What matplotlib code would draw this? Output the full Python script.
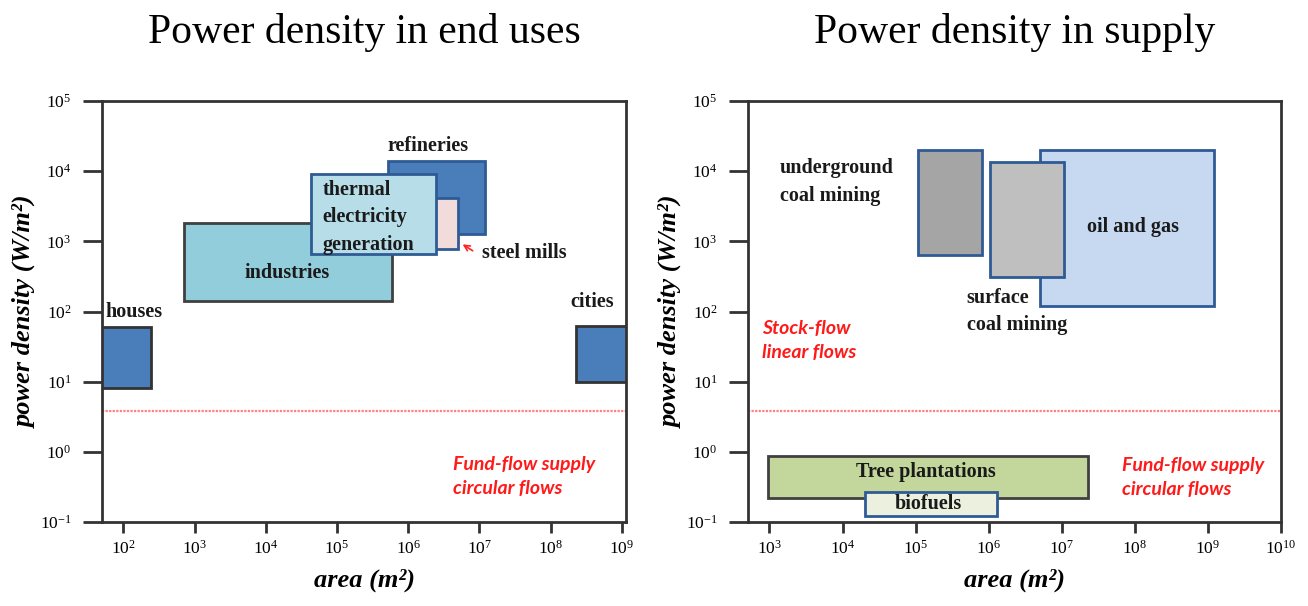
import numpy as np
import matplotlib
matplotlib.use("Agg")
import matplotlib.pyplot as plt

plt.rcParams['font.family'] = ['Liberation Serif', 'DejaVu Serif']
plt.rcParams['mathtext.fontset'] = 'custom'
plt.rcParams['mathtext.rm'] = 'Liberation Serif'
plt.rcParams['mathtext.it'] = 'Liberation Serif:italic'
plt.rcParams['mathtext.bf'] = 'Liberation Serif:bold:italic'

# ---- end uses: area range (m2) and power density range (W/m2) ----
use_names = ["industries", "refineries", "steel mills", "thermal electricity generation", "houses", "cities"]
use_area_lo = [700, 5.2e5, 1.5e6, 4.3e4, 50, 2.3e8]
use_area_hi = [6e5, 1.2e7, 5e6, 2.5e6, 240, 1.15e9]
use_pd_lo = [140, 1270, 780, 660, 8, 10]
use_pd_hi = [1800, 14000, 4200, 9000, 61, 63]
use_fill = ["#92cddc", "#4a7ebb", "#f2dcdb", "#b7dee8", "#4a7ebb", "#4a7ebb"]
use_edge = ["#404040", "#2f5b94", "#2f5b94", "#2f5b94", "#333333", "#333333"]

# ---- supply ----
sup_names = ["oil and gas", "surface coal mining", "underground coal mining", "Tree plantations", "biofuels"]
sup_area_lo = [5e6, 1.05e6, 1.07e5, 950, 2e4]
sup_area_hi = [1.2e9, 1.07e7, 8e5, 2.3e7, 1.3e6]
sup_pd_lo = [120, 310, 630, 0.22, 0.12]
sup_pd_hi = [2e4, 1.35e4, 2e4, 0.87, 0.27]
sup_fill = ["#c6d9f1", "#bfbfbf", "#a5a5a5", "#c3d69b", "#ebf1de"]
sup_edge = ["#2f5b94", "#2f5b94", "#2f5b94", "#404040", "#2f5b94"]

fund_flow_limit = 3.85  # W/m2, boundary between stock-flow and fund-flow

use_xticks = [1e2, 1e3, 1e4, 1e5, 1e6, 1e7, 1e8, 1e9]
sup_xticks = [1e3, 1e4, 1e5, 1e6, 1e7, 1e8, 1e9, 1e10]
yticks = [1e-1, 1e0, 1e1, 1e2, 1e3, 1e4, 1e5]

red_font = dict(family='Lato', style='italic', weight='bold', color='#ff1a1a', fontsize=14)
box_font = dict(weight='bold', fontsize=14.5, color='#1a1a1a')


def draw_boxes(ax, lo, hi, plo, phi, fill, edge):
    lo, hi, plo, phi = map(np.array, (lo, hi, plo, phi))
    for i in range(len(lo)):
        ax.bar(x=lo[i], height=phi[i] - plo[i], width=hi[i] - lo[i], bottom=plo[i],
               align='edge', color=fill[i], edgecolor=edge[i], linewidth=2, zorder=2 + i)


def style_axes(ax, xticks, xlim):
    ax.set_xscale('log')
    ax.set_yscale('log')
    ax.set_xlim(*xlim)
    ax.set_ylim(0.1, 1e5)
    ax.set_xticks(xticks)
    ax.set_xticklabels([f"$10^{{{int(np.log10(t))}}}$" for t in xticks])
    ax.set_yticks(yticks)
    ax.set_yticklabels([f"$10^{{{int(np.log10(t))}}}$" for t in yticks])
    ax.minorticks_off()
    ax.tick_params(axis='y', length=14, width=2, color='#333333', labelsize=12.5, pad=8)
    ax.tick_params(axis='x', length=8, width=2, color='#333333', labelsize=12.5, pad=5)
    for s in ax.spines.values():
        s.set_linewidth(2)
        s.set_color('#333333')
    ax.axhline(fund_flow_limit, color='#ff8080', lw=1.6, ls=(0, (1, 0.6)), zorder=1)
    ax.set_xlabel("area (m²)", fontsize=19, style='italic', weight='bold', labelpad=8)
    ax.set_ylabel("power density (W/m²)", fontsize=19, style='italic', weight='bold', labelpad=2)


fig = plt.figure(figsize=(13.08, 6.06), dpi=100)
ax1 = fig.add_axes([0.078, 0.1386, 0.4006, 0.6947])
ax2 = fig.add_axes([0.5719, 0.1386, 0.4075, 0.6947])

# ---- left: end uses ----
style_axes(ax1, use_xticks, (50, 1.15e9))
draw_boxes(ax1, use_area_lo, use_area_hi, use_pd_lo, use_pd_hi, use_fill, use_edge)
ax1.text(55, 100, "houses", ha='left', va='center', **box_font)
ax1.text(1.9e6, 2.3e4, "refineries", ha='center', va='center', **box_font)
ax1.text(6.3e4, 2200, "thermal\nelectricity\ngeneration", ha='left', va='center',
         linespacing=1.5, zorder=10, **box_font)
ax1.text(2.0e4, 355, "industries", ha='center', va='center', zorder=10, **box_font)
ax1.text(1.1e7, 680, "steel mills", ha='left', va='center', **box_font)
ax1.annotate("", xy=(5.4e6, 950), xytext=(8.7e6, 700),
             arrowprops=dict(arrowstyle='->', color='#ff2020', lw=1.2), zorder=10)
ax1.text(3.8e8, 135, "cities", ha='center', va='center', **box_font)
ax1.text(4.3e6, 0.45, "Fund-flow supply\ncircular flows", ha='left', va='center',
         linespacing=1.5, **red_font)
ax1.set_title("Power density in end uses", fontsize=30, pad=42, family='Liberation Serif')

# ---- right: supply ----
style_axes(ax2, sup_xticks, (510, 1e10))
draw_boxes(ax2, sup_area_lo, sup_area_hi, sup_pd_lo, sup_pd_hi, sup_fill, sup_edge)
ax2.text(1.4e3, 7000, "underground\ncoal mining", ha='left', va='center', linespacing=1.5, **box_font)
ax2.text(5e5, 100, "surface\ncoal mining", ha='left', va='center', linespacing=1.5, zorder=10, **box_font)
ax2.text(9.5e7, 1600, "oil and gas", ha='center', va='center', zorder=10, **box_font)
ax2.text(1.4e5, 0.51, "Tree plantations", ha='center', va='center', zorder=10, **box_font)
ax2.text(1.5e5, 0.18, "biofuels", ha='center', va='center', zorder=10, **box_font)
ax2.text(800, 38, "Stock-flow\nlinear flows", ha='left', va='center', linespacing=1.5, **red_font)
ax2.text(6.6e7, 0.43, "Fund-flow supply\ncircular flows", ha='left', va='center',
         linespacing=1.5, **red_font)
ax2.set_title("Power density in supply", fontsize=30, pad=42, family='Liberation Serif')

fig.savefig("out.png", dpi=100)
